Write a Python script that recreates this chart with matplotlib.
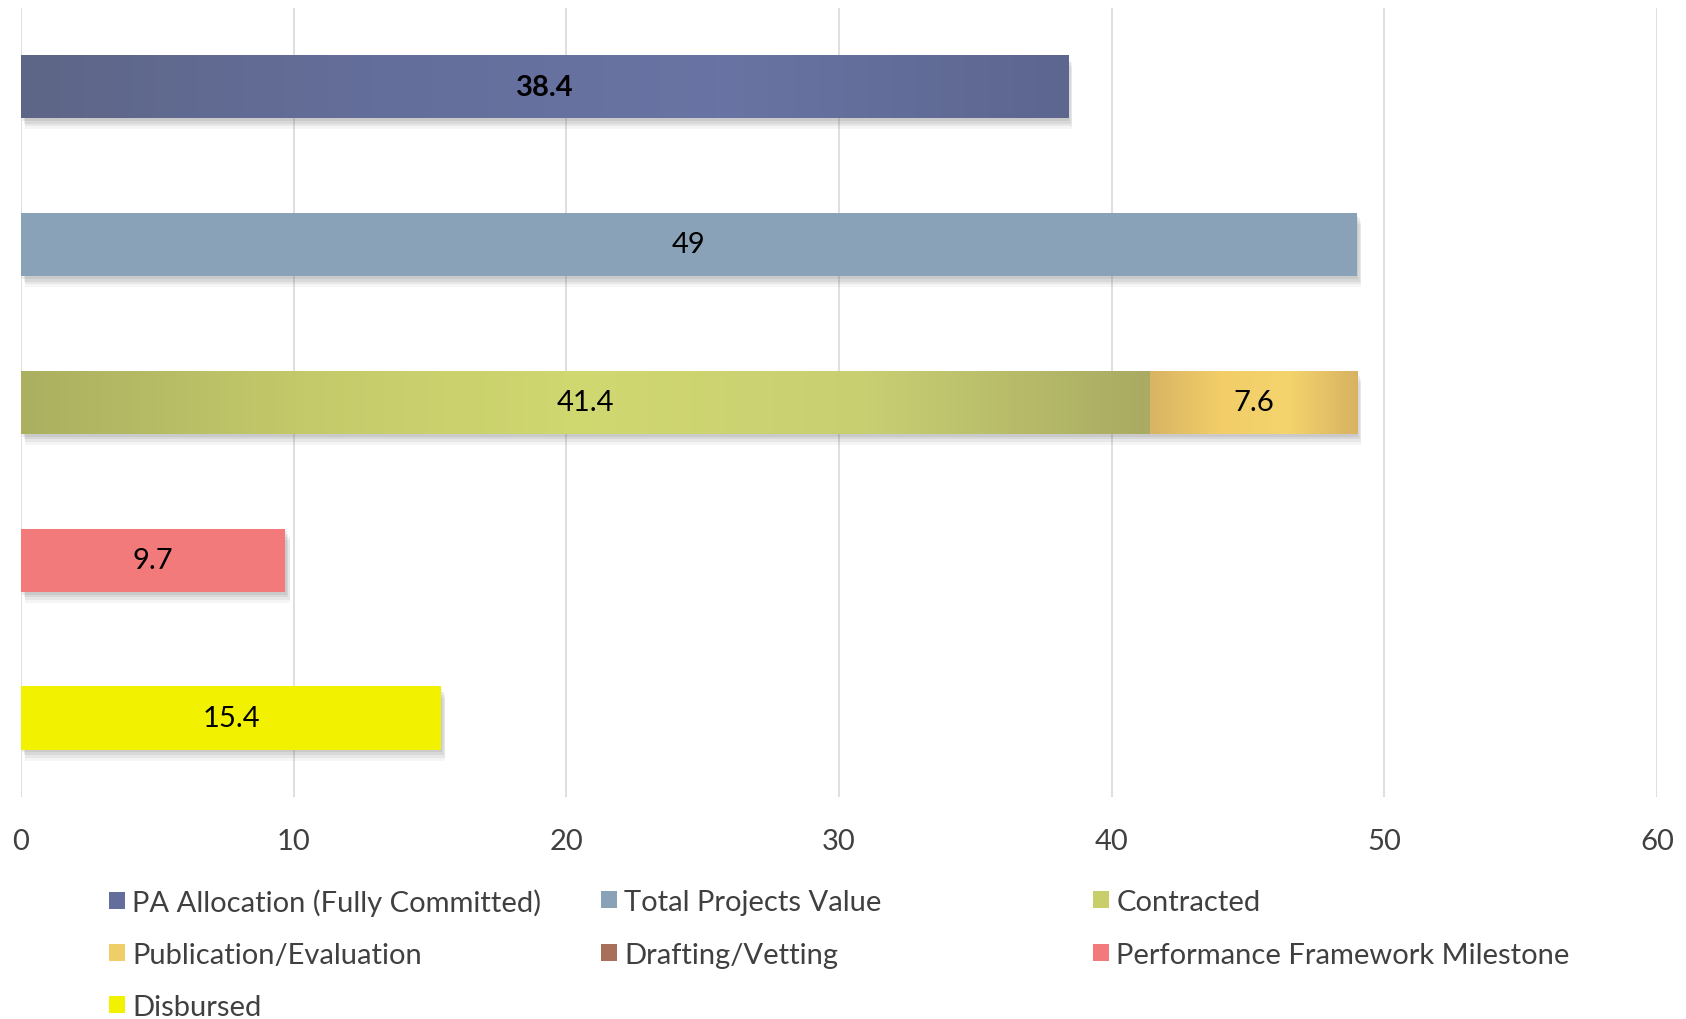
import matplotlib
matplotlib.use("Agg")
import numpy as np
import matplotlib.pyplot as plt
from matplotlib.patches import Patch
from matplotlib.colors import LinearSegmentedColormap
import matplotlib.patheffects as pe

plt.rcParams['font.family'] = ['Lato', 'DejaVu Sans']

# ---- data ----
rows = ["PA Allocation", "Total Projects Value", "Contracted+Publication", "Performance", "Disbursed"]
series_names = ["PA Allocation (Fully Committed)", "Total Projects Value", "Contracted",
                "Publication/Evaluation", "Drafting/Vetting", "Performance Framework Milestone",
                "Disbursed"]
# value of each series in each row (0 = absent)
pa_allocation = [38.4, 0, 0, 0, 0]
total_projects = [0, 49, 0, 0, 0]
contracted = [0, 0, 41.4, 0, 0]
publication = [0, 0, 7.6, 0, 0]
drafting = [0, 0, 0, 0, 0]
performance = [0, 0, 0, 9.7, 0]
disbursed = [0, 0, 0, 0, 15.4]
x_ticks = [0, 10, 20, 30, 40, 50, 60]

series_values = [pa_allocation, total_projects, contracted, publication,
                 drafting, performance, disbursed]
colors = ["#646e9c", "#8aa2b8", "#c8cf6a", "#efcd68", "#a8705a", "#f27a7b", "#f2f200"]
# horizontal gradient stops (style only)
gradients = [["#5e6687", "#646e9a", "#6a74a4", "#5c668f"],
             None,
             ["#aab060", "#c4ca6a", "#d0d870", "#c8cf72", "#a9ab62"],
             ["#d8b463", "#f2cd68", "#f4d46c", "#d8b262"],
             None, None, None]
bold = [True, False, False, False, False, False, False]

fig = plt.figure(figsize=(16.86, 10.20), dpi=100)
ax = fig.add_axes([21/1686, 1-798/1020, (1657-21)/1686, (798-8.6)/1020])

ypos = list(range(len(rows)))
left = [0.0]*len(rows)
shadow = [pe.SimplePatchShadow(offset=(1, -2), shadow_rgbFace="#555555", alpha=0.10),
          pe.SimplePatchShadow(offset=(2, -4), shadow_rgbFace="#555555", alpha=0.10),
          pe.SimplePatchShadow(offset=(3, -6), shadow_rgbFace="#555555", alpha=0.08),
          pe.SimplePatchShadow(offset=(3, -8), shadow_rgbFace="#555555", alpha=0.06),
          pe.Normal()]
for name, vals, col, grad, b in zip(series_names, series_values, colors, gradients, bold):
    bars = ax.barh(ypos, vals, left=left, height=0.4, color=col, zorder=3)
    for bar, v, l in zip(bars, vals, left):
        if v > 0:
            bar.set_path_effects(shadow)
            if grad is not None:
                cmap = LinearSegmentedColormap.from_list("g", grad)
                x0, y0 = bar.get_x(), bar.get_y()
                w, h = bar.get_width(), bar.get_height()
                img = ax.imshow(np.linspace(0, 1, 256).reshape(1, -1), cmap=cmap,
                                extent=[x0, x0 + w, y0 + h, y0], aspect="auto",
                                zorder=3.5, interpolation="bilinear")
                img.set_clip_path(bar)
            ax.text(l + v/2, bar.get_y() + bar.get_height()/2, f"{v:g}",
                    ha="center", va="center", fontsize=21, color="black",
                    fontweight="bold" if b else "normal", zorder=5)
    left = [a + v for a, v in zip(left, vals)]

ax.set_ylim(len(rows)-0.5, -0.5)
ax.set_xlim(0, 60)
ax.set_xticks(x_ticks)
ax.set_xticklabels([str(t) for t in x_ticks])
ax.set_yticks([])
ax.tick_params(axis="x", length=0, pad=22, labelsize=21, labelcolor="#404040")
for s in ax.spines.values():
    s.set_visible(False)
ax.grid(axis="x", color="#d9d9d9", linewidth=1.2, zorder=0)
ax.set_axisbelow(True)

# legend: 3 columns, row-major; one entry per legend so rows align exactly
handles = [Patch(facecolor=c, edgecolor="none") for c in colors]
col_x = [109/1686, 601/1686, 1093/1686]
row_y = [1-903/1020, 1-956/1020, 1-1008/1020]
for i, (name, h) in enumerate(zip(series_names, handles)):
    r, c = divmod(i, 3)
    fig.legend([h], [name], loc="center left", bbox_to_anchor=(col_x[c], row_y[r]),
               frameon=False, fontsize=21, labelcolor="#404040",
               handlelength=0.55, handleheight=0.55, handletextpad=0.25,
               borderpad=0, borderaxespad=0)

fig.savefig("out.png", dpi=100)
